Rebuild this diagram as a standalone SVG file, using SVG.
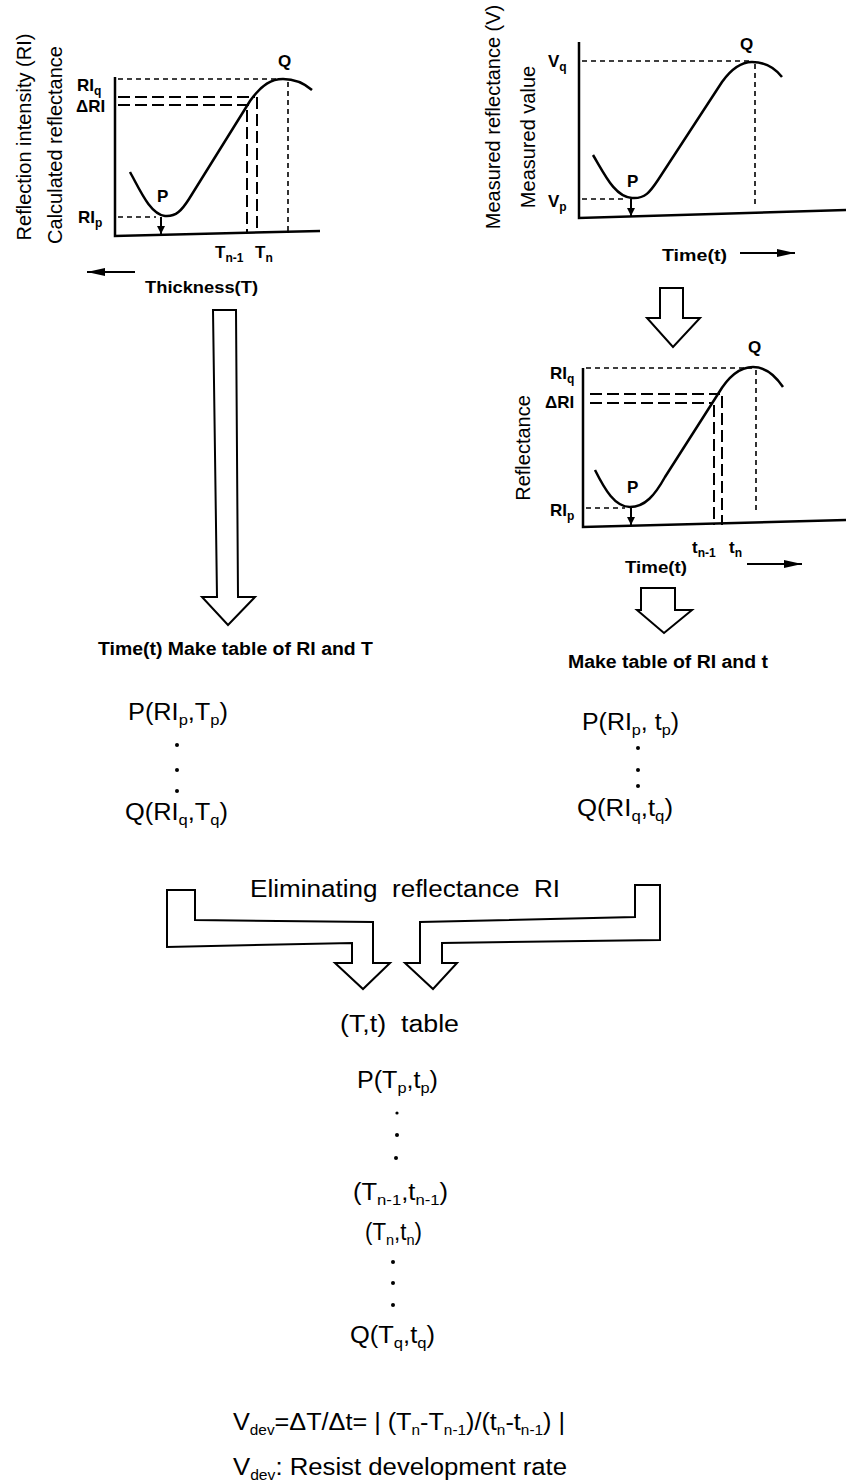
<svg xmlns="http://www.w3.org/2000/svg" width="846" height="1483" viewBox="0 0 846 1483">
<style>
.ax{stroke:#000;stroke-width:2.5;fill:none}
.cv{stroke:#000;stroke-width:2.5;fill:none;stroke-linejoin:round}
.sd{stroke:#000;stroke-width:1.6;stroke-dasharray:5 4;fill:none}
.ld{stroke:#000;stroke-width:2;stroke-dasharray:12 5;fill:none}
.ha{fill:#fff;stroke:#000;stroke-width:2;stroke-linejoin:miter}
.ar{stroke:#000;stroke-width:2;fill:none}
.lb{font-family:"Liberation Sans",Arial,sans-serif;font-weight:bold;font-size:17px;fill:#000}
.yl{font-family:"Liberation Sans",Arial,sans-serif;font-size:20px;fill:#000;text-anchor:middle}
.tx{font-family:"Liberation Sans",Arial,sans-serif;font-size:23px;fill:#000}
.hd{font-family:"Liberation Sans",Arial,sans-serif;font-weight:bold;font-size:18px;fill:#000}
.dot{fill:#000}
</style>
<defs>
<marker id="big" viewBox="0 0 18 8" refX="18" refY="4" markerWidth="18" markerHeight="8" markerUnits="userSpaceOnUse" orient="auto"><path d="M0,0 L18,4 L0,8 Z" fill="#000"/></marker>
<marker id="sm" viewBox="0 0 8 8" refX="8" refY="4" markerWidth="8" markerHeight="8" markerUnits="userSpaceOnUse" orient="auto"><path d="M0,0 L8,4 L0,8 Z" fill="#000"/></marker>
</defs>
<rect width="846" height="1483" fill="#fff"/>

<!-- Graph 1: calculated reflectance vs thickness -->
<g id="graph-calc">
<text class="yl" transform="translate(31,137) rotate(-90)">Reflection intensity (RI)</text>
<text class="yl" transform="translate(62,145) rotate(-90)">Calculated reflectance</text>
<path class="ax" d="M115,77 L115,236 L320,231"/>
<path class="cv" d="M130,172 C140,190 150,214 165,216 C176,217 182,210 189,199 L250,101 C262,84 272,79 283,79 C295,79 305,84 312,90"/>
<path class="sd" d="M118,79 L282,79"/>
<path class="ld" d="M118,97 L255,97 M118,105 L249,105"/>
<path class="ld" d="M247,110 L247,233 M257,97 L257,233"/>
<path class="sd" d="M288,82 L288,232"/>
<path class="sd" d="M118,217 L156,217"/>
<line class="ar" x1="161" y1="217" x2="161" y2="234" marker-end="url(#sm)"/>
<text class="lb" x="278" y="67">Q</text>
<text class="lb" x="157" y="202">P</text>
<text class="lb" x="77" y="91">RI<tspan font-size="12" dy="4">q</tspan></text>
<text class="lb" x="76" y="112">ΔRI</text>
<text class="lb" x="78" y="223">RI<tspan font-size="12" dy="4">p</tspan></text>
<text class="lb" x="215" y="258">T<tspan font-size="12" dy="4">n-1</tspan></text>
<text class="lb" x="255" y="258">T<tspan font-size="12" dy="4">n</tspan></text>
<line class="ar" x1="135" y1="272" x2="87" y2="272" marker-end="url(#big)"/>
<text class="lb" x="145" y="293" font-size="18" textLength="113" lengthAdjust="spacingAndGlyphs">Thickness(T)</text>
</g>

<!-- Graph 2: measured reflectance vs time -->
<g id="graph-meas">
<text class="yl" transform="translate(500,117) rotate(-90)">Measured reflectance (V)</text>
<text class="yl" transform="translate(535,137) rotate(-90)">Measured value</text>
<path class="ax" d="M579,42 L579,218 L846,210"/>
<path class="cv" d="M593,155 C605,175 615,197 632,198 C645,199 650,192 658,180 L722,82 C732,68 742,62 752,62 C765,62 775,68 782,77"/>
<path class="sd" d="M582,61 L750,61"/>
<path class="sd" d="M755,64 L755,206"/>
<path class="sd" d="M582,199 L626,199"/>
<line class="ar" x1="631" y1="199" x2="631" y2="216" marker-end="url(#sm)"/>
<text class="lb" x="740" y="50">Q</text>
<text class="lb" x="627" y="187">P</text>
<text class="lb" x="548" y="67">V<tspan font-size="12" dy="4">q</tspan></text>
<text class="lb" x="548" y="207">V<tspan font-size="12" dy="4">p</tspan></text>
<text class="lb" x="662" y="261" font-size="18" textLength="65" lengthAdjust="spacingAndGlyphs">Time(t)</text>
<line class="ar" x1="740" y1="253" x2="795" y2="253" marker-end="url(#big)"/>
</g>

<!-- Graph 3: reflectance vs time -->
<g id="graph-refl">
<text class="yl" transform="translate(530,448) rotate(-90)">Reflectance</text>
<path class="ax" d="M583,368 L583,527 L846,520"/>
<path class="cv" d="M595,470 C605,490 615,507 630,507 C645,507 655,495 665,477 L718,394 C728,377 740,367 753,367 C765,367 775,375 783,387"/>
<path class="sd" d="M586,368 L752,368"/>
<path class="ld" d="M590,394 L720,394 M590,403 L713,403"/>
<path class="ld" d="M714,405 L714,525 M722,396 L722,525"/>
<path class="sd" d="M756,370 L756,512"/>
<path class="sd" d="M586,508 L625,508"/>
<line class="ar" x1="631" y1="508" x2="631" y2="525" marker-end="url(#sm)"/>
<text class="lb" x="748" y="353">Q</text>
<text class="lb" x="627" y="493">P</text>
<text class="lb" x="550" y="379">RI<tspan font-size="12" dy="4">q</tspan></text>
<text class="lb" x="545" y="408">ΔRI</text>
<text class="lb" x="550" y="516">RI<tspan font-size="12" dy="4">p</tspan></text>
<text class="lb" x="692" y="553">t<tspan font-size="12" dy="4">n-1</tspan></text>
<text class="lb" x="729" y="553">t<tspan font-size="12" dy="4">n</tspan></text>
<text class="lb" x="625" y="573" font-size="18" textLength="62" lengthAdjust="spacingAndGlyphs">Time(t)</text>
<line class="ar" x1="747" y1="564" x2="802" y2="564" marker-end="url(#big)"/>
</g>

<!-- Left table -->
<g id="table-RI-T">
<text class="hd" x="98" y="655" textLength="275" lengthAdjust="spacingAndGlyphs">Time(t) Make table of RI and T</text>
<text class="tx" x="128" y="720" textLength="100" lengthAdjust="spacingAndGlyphs">P(RI<tspan font-size="15" dy="5">p</tspan><tspan dy="-5">,T</tspan><tspan font-size="15" dy="5">p</tspan><tspan dy="-5">)</tspan></text>
<circle class="dot" cx="177" cy="745" r="2"/>
<circle class="dot" cx="177" cy="770" r="2"/>
<circle class="dot" cx="177" cy="791" r="2"/>
<text class="tx" x="125" y="820" textLength="103" lengthAdjust="spacingAndGlyphs">Q(RI<tspan font-size="15" dy="5">q</tspan><tspan dy="-5">,T</tspan><tspan font-size="15" dy="5">q</tspan><tspan dy="-5">)</tspan></text>
</g>

<!-- Right table -->
<g id="table-RI-t">
<text class="hd" x="568" y="668" textLength="200" lengthAdjust="spacingAndGlyphs">Make table of RI and t</text>
<text class="tx" x="582" y="730" textLength="97" lengthAdjust="spacingAndGlyphs">P(RI<tspan font-size="15" dy="5">p</tspan><tspan dy="-5">, t</tspan><tspan font-size="15" dy="5">p</tspan><tspan dy="-5">)</tspan></text>
<circle class="dot" cx="638" cy="748" r="2"/>
<circle class="dot" cx="638" cy="770" r="2"/>
<circle class="dot" cx="638" cy="786" r="2"/>
<text class="tx" x="577" y="816" textLength="96" lengthAdjust="spacingAndGlyphs">Q(RI<tspan font-size="15" dy="5">q</tspan><tspan dy="-5">,t</tspan><tspan font-size="15" dy="5">q</tspan><tspan dy="-5">)</tspan></text>
</g>

<!-- Eliminating label -->
<g id="eliminate">
<text class="tx" x="250" y="897" font-size="21" textLength="310" lengthAdjust="spacingAndGlyphs" xml:space="preserve">Eliminating  reflectance  RI</text>
</g>

<!-- T,t table -->
<g id="table-T-t">
<text class="tx" x="340" y="1032" textLength="119" lengthAdjust="spacingAndGlyphs" xml:space="preserve">(T,t)  table</text>
<text class="tx" x="357" y="1088" textLength="81" lengthAdjust="spacingAndGlyphs">P(T<tspan font-size="15" dy="5">p</tspan><tspan dy="-5">,t</tspan><tspan font-size="15" dy="5">p</tspan><tspan dy="-5">)</tspan></text>
<circle class="dot" cx="397" cy="1113" r="1.6"/>
<circle class="dot" cx="397" cy="1135" r="2"/>
<circle class="dot" cx="396" cy="1158" r="2"/>
<text class="tx" x="353" y="1200" textLength="95" lengthAdjust="spacingAndGlyphs">(T<tspan font-size="15" dy="5">n-1</tspan><tspan dy="-5">,t</tspan><tspan font-size="15" dy="5">n-1</tspan><tspan dy="-5">)</tspan></text>
<text class="tx" x="365" y="1240" textLength="57" lengthAdjust="spacingAndGlyphs">(T<tspan font-size="15" dy="5">n</tspan><tspan dy="-5">,t</tspan><tspan font-size="15" dy="5">n</tspan><tspan dy="-5">)</tspan></text>
<circle class="dot" cx="393" cy="1262" r="2"/>
<circle class="dot" cx="393" cy="1283" r="2"/>
<circle class="dot" cx="393" cy="1305" r="2"/>
<text class="tx" x="350" y="1343" textLength="85" lengthAdjust="spacingAndGlyphs">Q(T<tspan font-size="15" dy="5">q</tspan><tspan dy="-5">,t</tspan><tspan font-size="15" dy="5">q</tspan><tspan dy="-5">)</tspan></text>
</g>

<!-- Formula -->
<g id="formula">
<text class="tx" x="233" y="1430" font-size="22" textLength="332" lengthAdjust="spacingAndGlyphs">V<tspan font-size="14" dy="5">dev</tspan><tspan dy="-5">=ΔT/Δt= | (T</tspan><tspan font-size="14" dy="5">n</tspan><tspan dy="-5">-T</tspan><tspan font-size="14" dy="5">n-1</tspan><tspan dy="-5">)/(t</tspan><tspan font-size="14" dy="5">n</tspan><tspan dy="-5">-t</tspan><tspan font-size="14" dy="5">n-1</tspan><tspan dy="-5">) |</tspan></text>
<text class="tx" x="233" y="1475" font-size="22" textLength="334" lengthAdjust="spacingAndGlyphs">V<tspan font-size="14" dy="5">dev</tspan><tspan dy="-5">: Resist development rate</tspan></text>
</g>

<!-- Hollow block arrows -->
<g id="connectors">
<polygon class="ha" points="660,288 683,288 683,318 700,318 673,347 647,318 660,318"/>
<polygon class="ha" points="213,310 236,310 238,597 255,597 228,625 202,597 217,597"/>
<polygon class="ha" points="641,588 675,588 675,610 692,610 664,633 637,610 641,610"/>
<polygon class="ha" points="167,890 195,890 195,920 373,922 373,963 390,963 363,989 335,963 352,963 352,943 167,947"/>
<polygon class="ha" points="660,885 660,940 442,943 442,963 457,963 433,989 405,963 420,963 420,922 635,917 635,885"/>
</g>
</svg>
